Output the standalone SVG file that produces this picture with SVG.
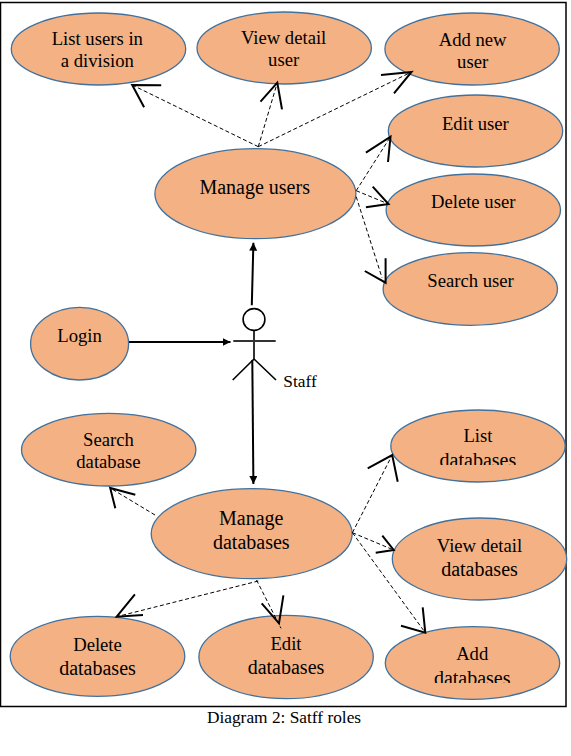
<svg xmlns="http://www.w3.org/2000/svg" width="571" height="756" viewBox="0 0 571 756">
<style>
.u{fill:#F4B183;stroke:#41719C;stroke-width:1.3}
text{font-family:"Liberation Serif","Times New Roman",serif;font-size:18.67px;fill:#000;text-anchor:middle}
.small{font-size:17.33px}
.l{font-size:20px}
.d{fill:none;stroke:#000;stroke-width:1;stroke-dasharray:4 2.5}
.b{fill:none;stroke:#000;stroke-width:2}
.s{fill:none;stroke:#000;stroke-width:1.6}
</style>
<defs>
<marker id="tri" markerUnits="userSpaceOnUse" markerWidth="9" markerHeight="9" refX="8" refY="4" orient="auto"><path d="M0 0L8 4L0 8Z" fill="#000"/></marker>
<clipPath id="c1"><rect x="390" y="420" width="176" height="45"/></clipPath>
<clipPath id="c2"><rect x="385" y="640" width="176" height="43"/></clipPath>
</defs>
<rect width="571" height="756" fill="#fff"/>
<rect id="frame" x="0.5" y="2.5" width="565.5" height="704" fill="#fff" stroke="#000" stroke-width="1.5"/>
<g id="n1"><ellipse class="u" cx="98.5" cy="49" rx="87.2" ry="36"/><text x="97.3" y="45">List users in</text><text x="97.3" y="67">a division</text></g>
<g id="n2"><ellipse class="u" cx="284.2" cy="48" rx="87.2" ry="36"/><text x="283.6" y="44">View detail</text><text x="283.6" y="66">user</text></g>
<g id="n3"><ellipse class="u" cx="472.1" cy="49" rx="87.2" ry="36"/><text x="472.6" y="46">Add new</text><text x="472.6" y="68">user</text></g>
<g id="n4"><ellipse class="u" cx="475.5" cy="131" rx="87.2" ry="36"/><text x="475.4" y="130">Edit user</text></g>
<g id="n5"><ellipse class="u" cx="473.3" cy="210" rx="87.2" ry="36"/><text x="473.2" y="208">Delete user</text></g>
<g id="n6"><ellipse class="u" cx="255.4" cy="193.7" rx="100.5" ry="45"/><text class="l" x="254.7" y="194">Manage users</text></g>
<g id="n7"><ellipse class="u" cx="470.3" cy="289" rx="87.2" ry="36.3"/><text x="470.6" y="287">Search user</text></g>
<g id="n8"><ellipse class="u" cx="79.6" cy="343.7" rx="49" ry="36.3"/><text x="79.6" y="342">Login</text></g>
<g id="n9"><ellipse class="u" cx="108.7" cy="449.7" rx="87.2" ry="36.3"/><text x="108.4" y="446">Search</text><text x="108.4" y="468">database</text></g>
<g id="n10"><ellipse class="u" cx="478" cy="446" rx="87.2" ry="36"/><text x="477.9" y="442">List</text><text class="l" x="477.9" y="466.5" clip-path="url(#c1)">databases</text></g>
<g id="n11"><ellipse class="u" cx="251.7" cy="533.7" rx="100.5" ry="45"/><text class="l" x="251.3" y="525">Manage</text><text class="l" x="251.3" y="549">databases</text></g>
<g id="n12"><ellipse class="u" cx="479.5" cy="559" rx="87.2" ry="41"/><text x="479.5" y="552">View detail</text><text class="l" x="479.5" y="576">databases</text></g>
<g id="n13"><ellipse class="u" cx="97.5" cy="656.3" rx="87.3" ry="40"/><text x="97.5" y="651">Delete</text><text class="l" x="97.5" y="675">databases</text></g>
<g id="n14"><ellipse class="u" cx="286.1" cy="657" rx="87.2" ry="41.7"/><text x="286" y="650">Edit</text><text class="l" x="286" y="674">databases</text></g>
<g id="n15"><ellipse class="u" cx="472.5" cy="663" rx="87.2" ry="36.3"/><text x="472.2" y="660">Add</text><text class="l" x="472.2" y="684.5" clip-path="url(#c2)">databases</text></g>
<g id="actor">
<circle cx="254" cy="319.5" r="10.9" fill="#fff" stroke="#000" stroke-width="1.6"/>
<path class="s" d="M254 330.5V359M254 359L232.7 380M254 359L276 380"/>
<path d="M233.3 341H275.7" fill="none" stroke="#333" stroke-width="1.8"/>
<text class="small" x="300" y="387">Staff</text>
</g>
<g id="connectors">
<path class="d" d="M258.3 146.7L132.2 85M258.3 146.7L277.3 82.7M258.3 146.7L411.5 72"/>
<path class="b" d="M161.2 85.3L132.2 85L144.1 107.3M260.5 101.7L277.3 82.7L282 109.3M381 75L411.5 72L394 93.3"/>
<path class="d" d="M356.2 190.7L390.5 136.7M356.2 190.7L388.5 204M356.2 196.7L382 277.7"/>
<path class="b" d="M365.9 152.7L390.5 136.7L388 162M372.7 186.7L388.5 204L365.9 207.3M385.6 258.3L385.6 282.7L364.8 271"/>
<path class="b" d="M251.8 305.3L253.4 242.7" marker-end="url(#tri)"/>
<path class="b" d="M129 342H230.5" marker-end="url(#tri)"/>
<path class="b" d="M252.3 360L253.4 484" marker-end="url(#tri)"/>
<path class="d" d="M155 515L110.2 488M352.4 532.7L392.2 455M352.4 532.7L393.7 550M352.4 532.7L425.3 632.7M258.3 581L116.7 616.7M256.5 580L281 628.3"/>
<path class="b" d="M135.3 494.7L110.2 488L115.3 508.3M367.7 468.3L392.2 455L397.7 481.7M382.3 535.7L393.7 550L375.7 552.7M422.7 607.3L425.3 632.7L401 625.7M134.9 594.3L116.7 616.7L143 615M261.7 603.3L279 623.3L283.4 595.3"/>
</g>
<text id="caption" class="small" x="284" y="723">Diagram 2: Satff roles</text>
</svg>
